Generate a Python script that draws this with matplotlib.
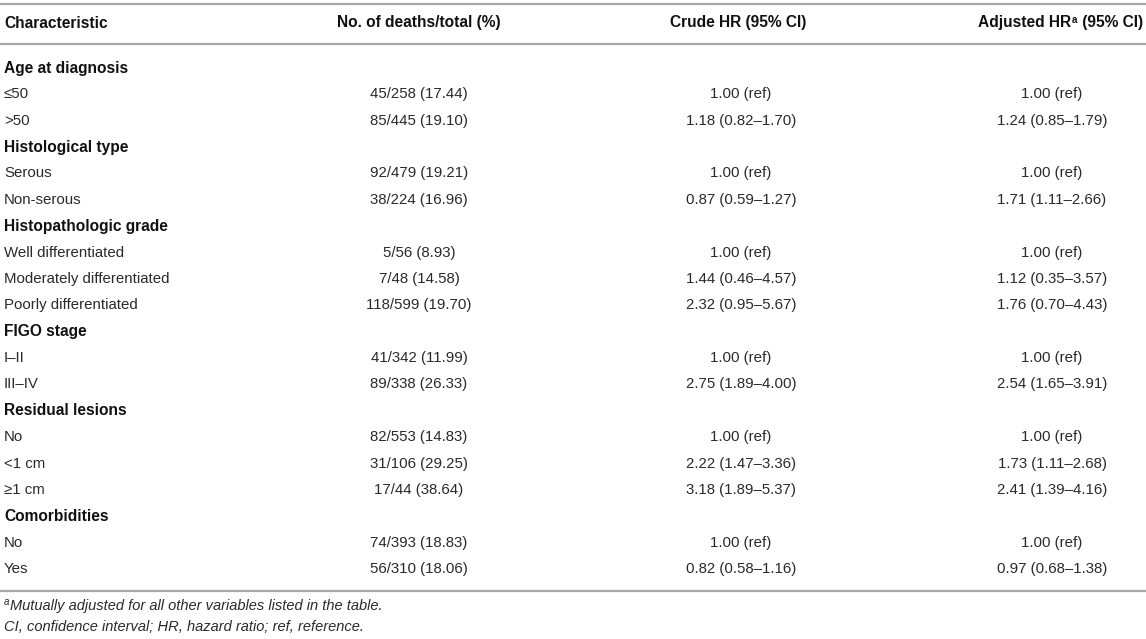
import matplotlib
matplotlib.use("Agg")
import matplotlib.pyplot as plt

plt.rcParams['font.family'] = ['Liberation Sans', 'DejaVu Sans']

# ---- data ----
columns = ["Characteristic", "No. of deaths/total (%)", "Crude HR (95% CI)", "Adjusted HR", "(95% CI)"]
groups = ["Age at diagnosis", "Histological type", "Histopathologic grade",
          "FIGO stage", "Residual lesions", "Comorbidities"]
levels = [["≤50", ">50"],
          ["Serous", "Non-serous"],
          ["Well differentiated", "Moderately differentiated", "Poorly differentiated"],
          ["I–II", "III–IV"],
          ["No", "<1 cm", "≥1 cm"],
          ["No", "Yes"]]
deaths = [[45, 85], [92, 38], [5, 7, 118], [41, 89], [82, 31, 17], [74, 56]]
totals = [[258, 445], [479, 224], [56, 48, 599], [342, 338], [553, 106, 44], [393, 310]]
pcts = [[17.44, 19.10], [19.21, 16.96], [8.93, 14.58, 19.70], [11.99, 26.33],
        [14.83, 29.25, 38.64], [18.83, 18.06]]
crude = [[None, (1.18, 0.82, 1.70)],
         [None, (0.87, 0.59, 1.27)],
         [None, (1.44, 0.46, 4.57), (2.32, 0.95, 5.67)],
         [None, (2.75, 1.89, 4.00)],
         [None, (2.22, 1.47, 3.36), (3.18, 1.89, 5.37)],
         [None, (0.82, 0.58, 1.16)]]
adjusted = [[None, (1.24, 0.85, 1.79)],
            [None, (1.71, 1.11, 2.66)],
            [None, (1.12, 0.35, 3.57), (1.76, 0.70, 4.43)],
            [None, (2.54, 1.65, 3.91)],
            [None, (1.73, 1.11, 2.68), (2.41, 1.39, 4.16)],
            [None, (0.97, 0.68, 1.38)]]
footnote_a = "Mutually adjusted for all other variables listed in the table."
footnote_2 = "CI, confidence interval; HR, hazard ratio; ref, reference."

# ---- layout ----
W, H = 1146, 639
fig = plt.figure(figsize=(W / 100, H / 100), dpi=100)
ax = fig.add_axes([0, 0, 1, 1])
ax.set_xlim(0, W)
ax.set_ylim(H, 0)
ax.axis('off')

FS = 10.8
FSB = 11.2
FSN = 10.5
BODY = '#2a2a2a'
HEAD = '#111111'
LINE = '#a8a8a8'
x0 = 4
xc1, xc2, xc3 = 419, 741, 1052
row0, dy = 68, 26.37


def fmt(v):
    if v is None:
        return "1.00 (ref)"
    return f"{v[0]:.2f} ({v[1]:.2f}–{v[2]:.2f})"


# rules
for yl in (4, 44, 591):
    ax.plot([0, W], [yl, yl], color=LINE, lw=1.6, solid_capstyle='butt')

# header
hy = 23
ax.text(x0, hy, columns[0], fontsize=FSB, fontweight='bold', color=HEAD, va='center', ha='left')
ax.text(xc1, hy, columns[1], fontsize=FSB, fontweight='bold', color=HEAD, va='center', ha='center')
ax.text(738, hy, columns[2], fontsize=FSB, fontweight='bold', color=HEAD, va='center', ha='center')
t_ci = ax.text(1143, hy, " " + columns[4], fontsize=FSB, fontweight='bold', color=HEAD,
               va='center', ha='right')
t_sup = ax.annotate("a", xy=(0, 1), xycoords=t_ci, fontsize=7, fontweight='bold',
                    color=HEAD, va='top', ha='right', xytext=(-0.3, 0.5), textcoords='offset points')
ax.annotate(columns[3], xy=(0, 0), xycoords=t_ci, fontsize=FSB, fontweight='bold',
            color=HEAD, va='bottom', ha='right', xytext=(-4.6, 0), textcoords='offset points')

# body
r = 0
for gi, g in enumerate(groups):
    y = row0 + r * dy
    ax.text(x0, y, g, fontsize=FSB, fontweight='bold', color=HEAD, va='center', ha='left')
    r += 1
    for li, lev in enumerate(levels[gi]):
        y = row0 + r * dy
        ax.text(x0, y, lev, fontsize=FS, color=BODY, va='center', ha='left')
        ax.text(xc1, y, f"{deaths[gi][li]}/{totals[gi][li]} ({pcts[gi][li]:.2f})",
                fontsize=FS, color=BODY, va='center', ha='center')
        ax.text(xc2, y, fmt(crude[gi][li]), fontsize=FS, color=BODY, va='center', ha='center')
        ax.text(xc3, y, fmt(adjusted[gi][li]), fontsize=FS, color=BODY, va='center', ha='center')
        r += 1

# footnotes
fa = ax.text(x0, 602, "a", fontsize=7, style='italic', color=BODY, va='center', ha='left')
ax.annotate(footnote_a, xy=(1, 0), xycoords=fa, fontsize=FSN, style='italic', color=BODY,
            va='bottom', ha='left', xytext=(0.3, -4.6), textcoords='offset points')
ax.text(x0, 627, footnote_2, fontsize=FSN, style='italic', color=BODY, va='center', ha='left')

fig.savefig("out.png", dpi=100)
